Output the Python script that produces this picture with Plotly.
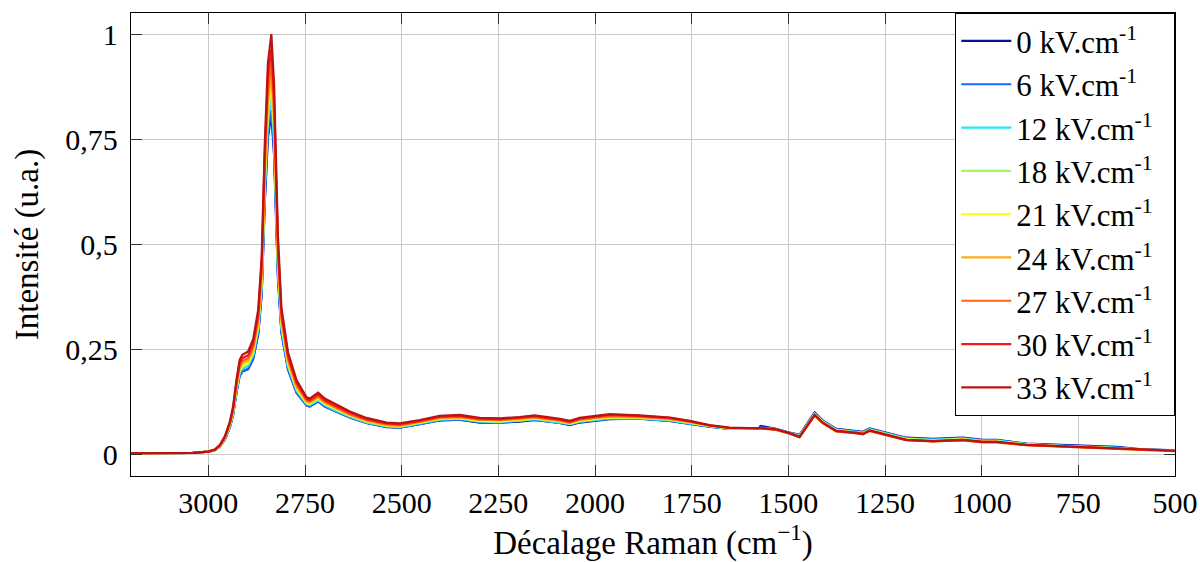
import plotly.graph_objects as go

# Raman shift axis (cm^-1), shared by every spectrum
shift = [3200, 3100, 3040, 3000, 2983, 2970, 2957, 2944, 2936, 2927,
         2919, 2912, 2897, 2884, 2871, 2862, 2854, 2846, 2837, 2830,
         2826, 2820, 2811, 2794, 2772, 2746, 2738, 2716, 2699, 2677,
         2634, 2591, 2539, 2505, 2453, 2402, 2350, 2298, 2246, 2195,
         2156, 2091, 2065, 2040, 1962, 1885, 1807, 1755, 1704, 1652,
         1600, 1576, 1572, 1533, 1501, 1471, 1432, 1410, 1376, 1324,
         1307, 1290, 1255, 1195, 1126, 1082, 1049, 997, 961, 884,
         781, 651, 592, 506, 500]

# Normalised intensity for each applied field
i_0kV = [0.004, 0.004, 0.005, 0.008, 0.011, 0.020, 0.037, 0.066, 0.095, 0.149,
         0.188, 0.198, 0.204, 0.228, 0.286, 0.381, 0.599, 0.753, 0.810, 0.713,
         0.599, 0.421, 0.291, 0.203, 0.148, 0.118, 0.115, 0.127, 0.115, 0.106,
         0.089, 0.076, 0.066, 0.065, 0.073, 0.082, 0.084, 0.077, 0.077, 0.079,
         0.083, 0.076, 0.071, 0.077, 0.085, 0.086, 0.081, 0.074, 0.067, 0.062,
         0.063, 0.063, 0.069, 0.062, 0.054, 0.048, 0.101, 0.081, 0.062, 0.058,
         0.055, 0.063, 0.055, 0.041, 0.038, 0.039, 0.041, 0.036, 0.036, 0.027,
         0.023, 0.019, 0.014, 0.011, 0.011]
i_6kV = [0.004, 0.004, 0.005, 0.008, 0.011, 0.020, 0.038, 0.067, 0.096, 0.150,
         0.189, 0.199, 0.205, 0.230, 0.288, 0.385, 0.607, 0.763, 0.820, 0.722,
         0.607, 0.426, 0.292, 0.204, 0.149, 0.119, 0.116, 0.128, 0.116, 0.106,
         0.089, 0.076, 0.067, 0.065, 0.073, 0.082, 0.084, 0.078, 0.077, 0.080,
         0.083, 0.076, 0.072, 0.078, 0.086, 0.086, 0.081, 0.074, 0.067, 0.062,
         0.063, 0.063, 0.066, 0.062, 0.054, 0.047, 0.099, 0.080, 0.061, 0.057,
         0.054, 0.062, 0.054, 0.040, 0.037, 0.038, 0.040, 0.035, 0.035, 0.026,
         0.022, 0.018, 0.013, 0.011, 0.011]
i_12kV = [0.004, 0.004, 0.005, 0.008, 0.011, 0.021, 0.039, 0.069, 0.099, 0.155,
          0.194, 0.205, 0.212, 0.237, 0.297, 0.400, 0.629, 0.791, 0.850, 0.748,
          0.629, 0.442, 0.301, 0.210, 0.153, 0.121, 0.118, 0.130, 0.118, 0.108,
          0.091, 0.077, 0.068, 0.066, 0.075, 0.084, 0.086, 0.079, 0.078, 0.081,
          0.085, 0.077, 0.073, 0.079, 0.087, 0.087, 0.082, 0.075, 0.068, 0.062,
          0.063, 0.063, 0.064, 0.061, 0.053, 0.046, 0.098, 0.079, 0.060, 0.056,
          0.053, 0.061, 0.053, 0.039, 0.036, 0.037, 0.039, 0.034, 0.034, 0.026,
          0.021, 0.017, 0.013, 0.011, 0.011]
i_18kV = [0.004, 0.004, 0.005, 0.008, 0.011, 0.021, 0.040, 0.070, 0.101, 0.158,
          0.199, 0.209, 0.216, 0.242, 0.304, 0.409, 0.644, 0.809, 0.870, 0.766,
          0.644, 0.452, 0.308, 0.215, 0.157, 0.123, 0.121, 0.133, 0.121, 0.111,
          0.093, 0.079, 0.069, 0.068, 0.076, 0.085, 0.087, 0.081, 0.080, 0.082,
          0.086, 0.079, 0.074, 0.081, 0.089, 0.088, 0.084, 0.076, 0.069, 0.063,
          0.063, 0.063, 0.064, 0.061, 0.053, 0.045, 0.097, 0.078, 0.059, 0.055,
          0.052, 0.060, 0.052, 0.038, 0.035, 0.036, 0.038, 0.033, 0.033, 0.025,
          0.021, 0.017, 0.013, 0.010, 0.010]
i_21kV = [0.004, 0.004, 0.005, 0.008, 0.012, 0.021, 0.040, 0.072, 0.103, 0.161,
          0.202, 0.213, 0.220, 0.246, 0.309, 0.416, 0.655, 0.823, 0.885, 0.779,
          0.655, 0.460, 0.313, 0.218, 0.159, 0.125, 0.122, 0.135, 0.122, 0.112,
          0.094, 0.080, 0.070, 0.068, 0.077, 0.086, 0.088, 0.081, 0.080, 0.083,
          0.087, 0.080, 0.075, 0.081, 0.090, 0.089, 0.085, 0.077, 0.069, 0.063,
          0.063, 0.063, 0.064, 0.061, 0.053, 0.044, 0.096, 0.077, 0.058, 0.054,
          0.051, 0.059, 0.051, 0.037, 0.034, 0.035, 0.037, 0.032, 0.032, 0.025,
          0.020, 0.016, 0.012, 0.010, 0.010]
i_24kV = [0.004, 0.004, 0.005, 0.008, 0.012, 0.022, 0.041, 0.073, 0.105, 0.164,
          0.206, 0.217, 0.224, 0.250, 0.314, 0.423, 0.666, 0.837, 0.900, 0.792,
          0.666, 0.468, 0.319, 0.222, 0.162, 0.127, 0.124, 0.137, 0.124, 0.114,
          0.095, 0.081, 0.071, 0.069, 0.078, 0.087, 0.089, 0.083, 0.082, 0.085,
          0.088, 0.081, 0.076, 0.083, 0.091, 0.090, 0.085, 0.078, 0.070, 0.064,
          0.063, 0.063, 0.063, 0.060, 0.052, 0.042, 0.094, 0.075, 0.056, 0.052,
          0.049, 0.057, 0.049, 0.035, 0.032, 0.033, 0.035, 0.030, 0.030, 0.023,
          0.019, 0.015, 0.011, 0.009, 0.009]
i_27kV = [0.004, 0.004, 0.005, 0.008, 0.012, 0.022, 0.042, 0.075, 0.108, 0.168,
          0.211, 0.223, 0.230, 0.257, 0.323, 0.437, 0.688, 0.865, 0.930, 0.818,
          0.688, 0.484, 0.327, 0.228, 0.166, 0.129, 0.127, 0.140, 0.127, 0.116,
          0.097, 0.083, 0.073, 0.071, 0.079, 0.089, 0.091, 0.084, 0.083, 0.086,
          0.090, 0.082, 0.077, 0.084, 0.093, 0.091, 0.086, 0.079, 0.070, 0.064,
          0.063, 0.063, 0.063, 0.060, 0.052, 0.042, 0.094, 0.075, 0.056, 0.052,
          0.049, 0.057, 0.049, 0.035, 0.032, 0.033, 0.035, 0.030, 0.030, 0.023,
          0.019, 0.015, 0.011, 0.009, 0.009]
i_30kV = [0.004, 0.004, 0.005, 0.008, 0.013, 0.023, 0.043, 0.077, 0.111, 0.174,
          0.218, 0.230, 0.237, 0.265, 0.333, 0.454, 0.714, 0.897, 0.965, 0.849,
          0.714, 0.502, 0.338, 0.235, 0.172, 0.133, 0.130, 0.144, 0.130, 0.119,
          0.100, 0.085, 0.075, 0.073, 0.081, 0.091, 0.093, 0.086, 0.085, 0.088,
          0.092, 0.084, 0.079, 0.086, 0.095, 0.093, 0.088, 0.080, 0.070, 0.064,
          0.063, 0.063, 0.064, 0.061, 0.053, 0.043, 0.095, 0.076, 0.057, 0.053,
          0.050, 0.058, 0.050, 0.036, 0.033, 0.034, 0.036, 0.031, 0.031, 0.024,
          0.020, 0.016, 0.012, 0.010, 0.010]
i_33kV = [0.004, 0.004, 0.005, 0.008, 0.013, 0.024, 0.045, 0.080, 0.115, 0.180,
          0.226, 0.238, 0.246, 0.275, 0.345, 0.470, 0.740, 0.930, 1.000, 0.880,
          0.740, 0.520, 0.350, 0.244, 0.178, 0.137, 0.134, 0.148, 0.134, 0.123,
          0.103, 0.088, 0.077, 0.075, 0.083, 0.093, 0.095, 0.088, 0.087, 0.090,
          0.094, 0.086, 0.081, 0.088, 0.097, 0.094, 0.089, 0.081, 0.071, 0.065,
          0.063, 0.063, 0.064, 0.061, 0.053, 0.043, 0.095, 0.076, 0.057, 0.053,
          0.050, 0.058, 0.050, 0.036, 0.033, 0.034, 0.036, 0.031, 0.031, 0.024,
          0.020, 0.016, 0.012, 0.010, 0.010]

fields = [0, 6, 12, 18, 21, 24, 27, 30, 33]
spectra = [i_0kV, i_6kV, i_12kV, i_18kV, i_21kV, i_24kV, i_27kV, i_30kV, i_33kV]
colors = ["#0d0d9e", "#1a66ff", "#1ee8f5", "#a3f564", "#ffff14",
          "#ffad19", "#ff6419", "#ff1414", "#b81414"]

x_ticks = [3000, 2750, 2500, 2250, 2000, 1750, 1500, 1250, 1000, 750, 500]
y_ticks = [0, 0.25, 0.5, 0.75, 1]
y_tick_text = ["0", "0,25", "0,5", "0,75", "1"]

FONT = "Liberation Serif"

fig = go.Figure()
for f, y, c in zip(fields, spectra, colors):
    fig.add_trace(go.Scatter(
        x=shift, y=y, mode="lines",
        line=dict(color=c, width=2.2),
        name=f"{f} kV.cm<sup>-1</sup>&nbsp;&nbsp;",
    ))

axis_common = dict(
    showline=True, linecolor="black", linewidth=1.3, mirror="ticks",
    ticks="inside", ticklen=11, tickcolor="#333333", tickwidth=1.3,
    showgrid=True, gridcolor="#c8c8c8", gridwidth=1,
    zeroline=False, automargin=False,
    tickfont=dict(family=FONT, size=30, color="black"),
)

fig.update_layout(
    width=1200, height=562,
    margin=dict(l=131, r=25, t=13, b=86),
    paper_bgcolor="white", plot_bgcolor="white",
    font=dict(family=FONT, color="black"),
    showlegend=True,
    legend=dict(
        x=1, y=1, xanchor="right", yanchor="top",
        bgcolor="white", bordercolor="black", borderwidth=1.3,
        font=dict(family=FONT, size=31, color="black"),
        tracegroupgap=0, itemwidth=50,
    ),
    xaxis=dict(
        axis_common,
        range=[3200, 500],
        tickvals=x_ticks, ticktext=[str(v) for v in x_ticks],
        title=dict(text="Décalage Raman (cm<sup>−1</sup>)",
                   font=dict(family=FONT, size=33, color="black"), standoff=12),
    ),
    yaxis=dict(
        axis_common,
        range=[-0.05, 1.05],
        tickvals=y_ticks, ticktext=y_tick_text,
        ticklabelstandoff=6,
        title=dict(text="Intensité (u.a.)",
                   font=dict(family=FONT, size=33, color="black"), standoff=16),
    ),
)

fig.write_html("out.html")
